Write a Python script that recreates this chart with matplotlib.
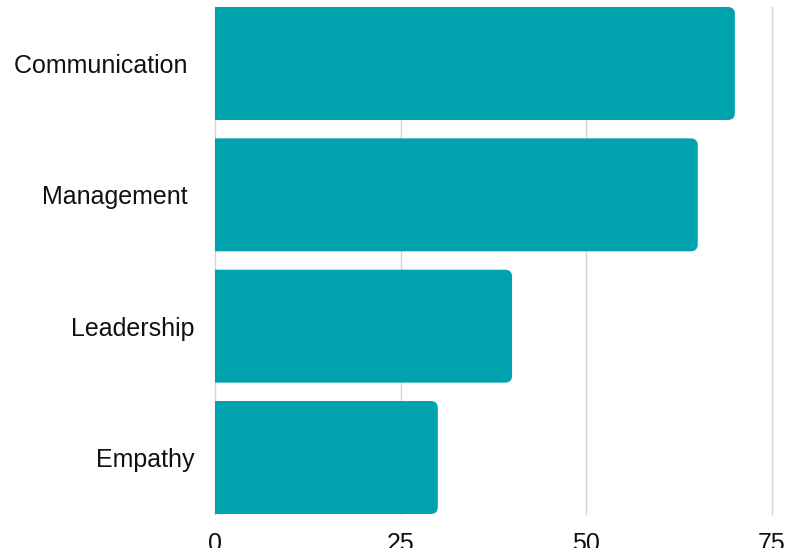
import matplotlib.pyplot as plt
from matplotlib.patches import FancyBboxPatch

# dados do gráfico
categorias = ["Communication ", "Management ", "Leadership", "Empathy"]
valores = [70, 65, 40, 30]
ticks_x = [0, 25, 50, 75]

cor_barra = "#00A3AD"
cor_grade = "#d4d4d4"

plt.rcParams["font.family"] = ["Liberation Sans", "DejaVu Sans"]

fig = plt.figure(figsize=(8.03, 5.48), dpi=100)
ax = fig.add_axes([215 / 803, 1 - 514 / 548, (772 - 215) / 803, (514 - 7) / 548])

altura = 0.86
posicoes = list(range(len(categorias)))
barras = ax.barh(posicoes, valores, height=altura, color=cor_barra)

ax.set_xlim(0, 75)
ax.set_ylim(len(categorias) - 1 + altura / 2, -altura / 2)

# trocar barras por retângulos com cantos arredondados à direita
fig.canvas.draw()
px_x = ax.transData.transform((1, 0))[0] - ax.transData.transform((0, 0))[0]
px_y = abs(ax.transData.transform((0, 1))[1] - ax.transData.transform((0, 0))[1])
raio = 7 / px_x
for b in barras:
    b.set_visible(False)
    x0, y0 = b.get_x(), b.get_y()
    w, h = b.get_width(), b.get_height()
    p = FancyBboxPatch((x0 - 2 * raio, y0), w + 2 * raio, h,
                       boxstyle=f"round,pad=0,rounding_size={raio}",
                       mutation_aspect=px_x / px_y,
                       facecolor=cor_barra, edgecolor="none", zorder=3)
    p.set_clip_path(ax.patch)
    ax.add_patch(p)

ax.set_yticks(posicoes)
ax.set_yticklabels(categorias, fontsize=18, color="#111111")
ax.set_xticks(ticks_x)
ax.set_xticklabels([str(t) for t in ticks_x], fontsize=18, color="#111111")
ax.tick_params(axis="both", length=0)
ax.tick_params(axis="y", pad=14.5)
ax.tick_params(axis="x", pad=13)

ax.grid(axis="x", color=cor_grade, linewidth=1)
for linha in ax.get_xgridlines():
    linha.set_clip_on(False)
ax.set_axisbelow(True)
for s in ax.spines.values():
    s.set_visible(False)

fig.savefig("out.png", dpi=100)
